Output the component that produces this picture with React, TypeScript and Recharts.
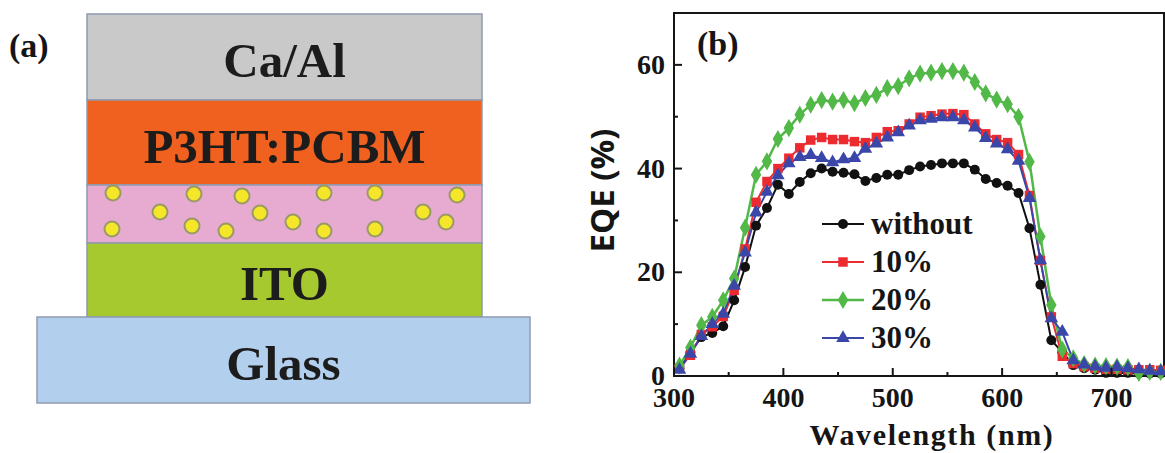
import {
  ComposedChart,
  ScatterChart,
  Scatter,
  Line,
  XAxis,
  YAxis,
  Legend,
  ReferenceArea,
  Symbols,
} from 'recharts'

const SERIF = '"Liberation Serif", serif'
const INK = '#151515'

// Panel (b): EQE spectra
const wavelengths = [
  305, 315, 325, 335, 345, 355, 365, 375, 385, 395, 405, 415, 425, 435, 445, 455, 465, 475, 485, 495, 505, 515, 525,
  535, 545, 555, 565, 575, 585, 595, 605, 615, 625, 635, 645, 655, 665, 675, 685, 695, 705, 715, 725, 735, 745,
]
const without = [
  1.5, 4.5, 7.5, 8.3, 9.6, 14.6, 21, 29, 32.4, 36.9, 35.1, 37.4, 39.1, 40, 39.4, 39.2, 38.9, 37.6, 38.2, 38.8, 38.8,
  39.7, 40.4, 40.7, 41, 41, 41, 39.8, 38, 37.2, 36.7, 35.3, 28.5, 17.6, 6.9, 4.6, 2.1, 1.5, 1.2, 0.6, 0.6, 0.6, 0.5,
  0.5, 0.5,
]
const pct10 = [
  1.5, 4, 8, 9.5, 11.5, 16.5, 24.5, 33.5, 37.5, 40, 42, 44, 45.5, 46, 45.6, 45.6, 45.2, 45, 46, 47.1, 47.3, 48.6, 49.9,
  50.2, 50.5, 50.6, 50.4, 48.6, 46.7, 45.6, 45, 42.7, 34.8, 22.3, 11.4, 3.8, 2.4, 1.8, 1.5, 1.3, 1.3, 1.2, 1.2, 1.2,
  1.1,
]
const pct20 = [
  2, 5.5, 9.8, 11.4, 14.6, 18.8, 28.6, 38.8, 41.4, 45.7, 47.8, 50.4, 52.3, 53.2, 52.9, 53.2, 52.6, 53.6, 54.2, 55.5,
  55.9, 57.4, 58.3, 58.5, 58.8, 58.8, 58.5, 56.7, 54.5, 53.3, 52.4, 50, 41.3, 26.9, 13.7, 5.1, 3.4, 2.3, 2, 1.9, 1.8,
  1.7, 0.6, 0.8, 0.8,
]
const pct30 = [
  1.2, 4.3, 7.7, 10, 12, 17.4, 23.8, 31.5, 35.5, 38.7, 41, 42.2, 42.6, 42, 41.2, 41.8, 42, 43.8, 44.8, 46, 47, 48.3,
  49.3, 49.6, 49.9, 49.9, 49.3, 47.9, 45.9, 44.8, 43.7, 41.5, 34.3, 22.3, 11.1, 8.5, 3, 2.2, 1.8, 1.6, 1.7, 1.5, 1.3,
  1, 0.9,
]

const xTicks = [300, 350, 400, 450, 500, 550, 600, 650, 700]
const xLabels = [300, 400, 500, 600, 700]
const yTicks = [0, 10, 20, 30, 40, 50, 60, 70]
const yLabels = [0, 20, 40, 60]

const seriesList = [
  { key: 'without', name: 'without', color: '#111111', marker: 'circle', size: 78, width: 2 },
  { key: 'pct10', name: '10%', color: '#ec2b30', marker: 'square', size: 90, width: 2 },
  { key: 'pct20', name: '20%', color: '#52b848', marker: 'diamond', size: 95, width: 2.5 },
  { key: 'pct30', name: '30%', color: '#3b47a8', marker: 'triangle', size: 80, width: 2 },
]

const spectra = wavelengths.map((w, i) => ({
  w,
  without: without[i],
  pct10: pct10[i],
  pct20: pct20[i],
  pct30: pct30[i],
}))

// Panel (a): device stack, in the pixel units of the schematic's own axes
const layerNames = ['Ca/Al', 'P3HT:PCBM', '', 'ITO', 'Glass']
const layerColors = ['#c9c9c9', '#f0611f', '#e7aad0', '#a5c92f', '#b2d0ee']
const layerLeft = [87, 87, 87, 87, 37]
const layerRight = [482, 482, 482, 482, 530]
const layerTop = [14, 100, 185, 243, 317]
const layerBottom = [100, 185, 243, 317, 403]

const particleX = [113, 194, 242, 324, 375, 457, 160, 260, 423, 446, 293, 192, 112, 226, 324, 375]
const particleY = [193, 194, 196, 193, 193, 195, 212, 213, 212, 222, 222, 226, 229, 231, 231, 229]
const particles = particleX.map((x, i) => ({ x, y: particleY[i] }))

function Marker({ cx, cy, color, type, size }: any) {
  return <Symbols cx={cx} cy={cy} type={type} size={size} sizeType="area" fill={color} stroke="none" />
}

function Particle({ cx, cy }: any) {
  return <circle cx={cx} cy={cy} r={7.5} fill="#f6e62a" stroke="#9a9a66" strokeWidth={2} />
}

function XTick({ x, y, payload }: any) {
  const major = xLabels.includes(payload.value)
  return (
    <g>
      <line x1={x} x2={x} y1={y} y2={y - (major ? 8 : 4)} stroke={INK} strokeWidth={2} />
      {major && (
        <text x={x} y={y + 31} textAnchor="middle" fontFamily={SERIF} fontWeight="bold" fontSize={28} fill={INK}>
          {payload.value}
        </text>
      )}
    </g>
  )
}

function YTick({ x, y, payload }: any) {
  const major = yLabels.includes(payload.value)
  return (
    <g>
      <line x1={x} x2={x + (major ? 8 : 4)} y1={y} y2={y} stroke={INK} strokeWidth={2} />
      {major && (
        <text x={x - 9} y={y + 9} textAnchor="end" fontFamily={SERIF} fontWeight="bold" fontSize={28} fill={INK}>
          {payload.value}
        </text>
      )}
    </g>
  )
}

function SpectraLegend() {
  return (
    <div>
      {seriesList.map((s) => (
        <div key={s.key} style={{ display: 'flex', alignItems: 'center', height: 38 }}>
          <svg width={42} height={20} style={{ marginRight: 7 }}>
            <line x1={0} x2={42} y1={10} y2={10} stroke={s.color} strokeWidth={s.width} />
            <Symbols cx={21} cy={10} type={s.marker as any} size={s.size} sizeType="area" fill={s.color} />
          </svg>
          <span style={{ fontFamily: SERIF, fontWeight: 'bold', fontSize: 31, color: INK }}>{s.name}</span>
        </div>
      ))}
    </div>
  )
}

function PanelLabel({ text, left, top }: { text: string; left: number; top: number }) {
  return (
    <div
      style={{
        position: 'absolute',
        left,
        top,
        fontFamily: SERIF,
        fontWeight: 'bold',
        fontSize: 34,
        lineHeight: '36px',
        color: INK,
      }}
    >
      {text}
    </div>
  )
}

export default function App() {
  return (
    <div style={{ position: 'absolute', left: 0, top: 0, width: 1165, height: 453, overflow: 'hidden', background: '#fff' }}>
      <div style={{ position: 'absolute', left: 0, top: 0 }}>
        <ScatterChart width={560} height={453} margin={{ top: 0, right: 0, bottom: 0, left: 0 }}>
          <XAxis type="number" dataKey="x" domain={[0, 560]} hide />
          <YAxis type="number" dataKey="y" domain={[0, 453]} reversed hide />
          {layerNames.map((name, i) => (
            <ReferenceArea
              key={i}
              x1={layerLeft[i]}
              x2={layerRight[i]}
              y1={layerTop[i]}
              y2={layerBottom[i]}
              fill={layerColors[i]}
              fillOpacity={1}
              stroke="#8f9bb0"
              strokeWidth={1.5}
              label={{
                value: name,
                position: 'center',
                dy: 3,
                fontFamily: SERIF,
                fontWeight: 'bold',
                fontSize: 49,
                fill: '#1c1c1c',
              }}
            />
          ))}
          <Scatter data={particles} isAnimationActive={false} shape={<Particle />} />
        </ScatterChart>
      </div>
      <PanelLabel text="(a)" left={9} top={28} />

      <div style={{ position: 'absolute', left: 0, top: 0 }}>
        <ComposedChart
          width={1165}
          height={453}
          data={spectra}
          margin={{ top: 13, right: 1, bottom: 0, left: 574 }}
        >
          <XAxis
            dataKey="w"
            type="number"
            domain={[300, 748]}
            ticks={xTicks}
            interval={0}
            height={77}
            tickLine={false}
            tickSize={0}
            tickMargin={0}
            stroke={INK}
            strokeWidth={2}
            tick={<XTick />}
            label={{
              value: 'Wavelength (nm)',
              position: 'insideBottom',
              offset: 8,
              dx: 13,
              fontFamily: SERIF,
              fontWeight: 'bold',
              fontSize: 30,
              letterSpacing: 1.6,
              fill: INK,
            }}
          />
          <YAxis
            type="number"
            domain={[0, 70]}
            ticks={yTicks}
            interval={0}
            width={100}
            tickLine={false}
            tickSize={0}
            tickMargin={0}
            stroke={INK}
            strokeWidth={2}
            tick={<YTick />}
            label={{
              value: 'EQE (%)',
              angle: -90,
              position: 'insideLeft',
              offset: 28,
              textAnchor: 'middle',
              dy: -4,
              fontFamily: '"Open Sans", sans-serif',
              fontWeight: 'bold',
              fontSize: 33,
              fill: INK,
            }}
          />
          <ReferenceArea x1={300} x2={748} y1={0} y2={70} fill="none" stroke={INK} strokeWidth={2} />
          {seriesList.map((s) => (
            <Line
              key={s.key}
              dataKey={s.key}
              name={s.name}
              stroke={s.color}
              strokeWidth={s.width}
              isAnimationActive={false}
              dot={(p: any) => <Marker key={p.index} cx={p.cx} cy={p.cy} color={s.color} type={s.marker} size={s.size} />}
            />
          ))}
          <Legend
            content={<SpectraLegend />}
            layout="vertical"
            align="center"
            verticalAlign="middle"
            wrapperStyle={{ left: 822, top: 205, width: 200, bottom: 'auto' }}
          />
        </ComposedChart>
      </div>
      <PanelLabel text="(b)" left={697} top={26} />
    </div>
  )
}
